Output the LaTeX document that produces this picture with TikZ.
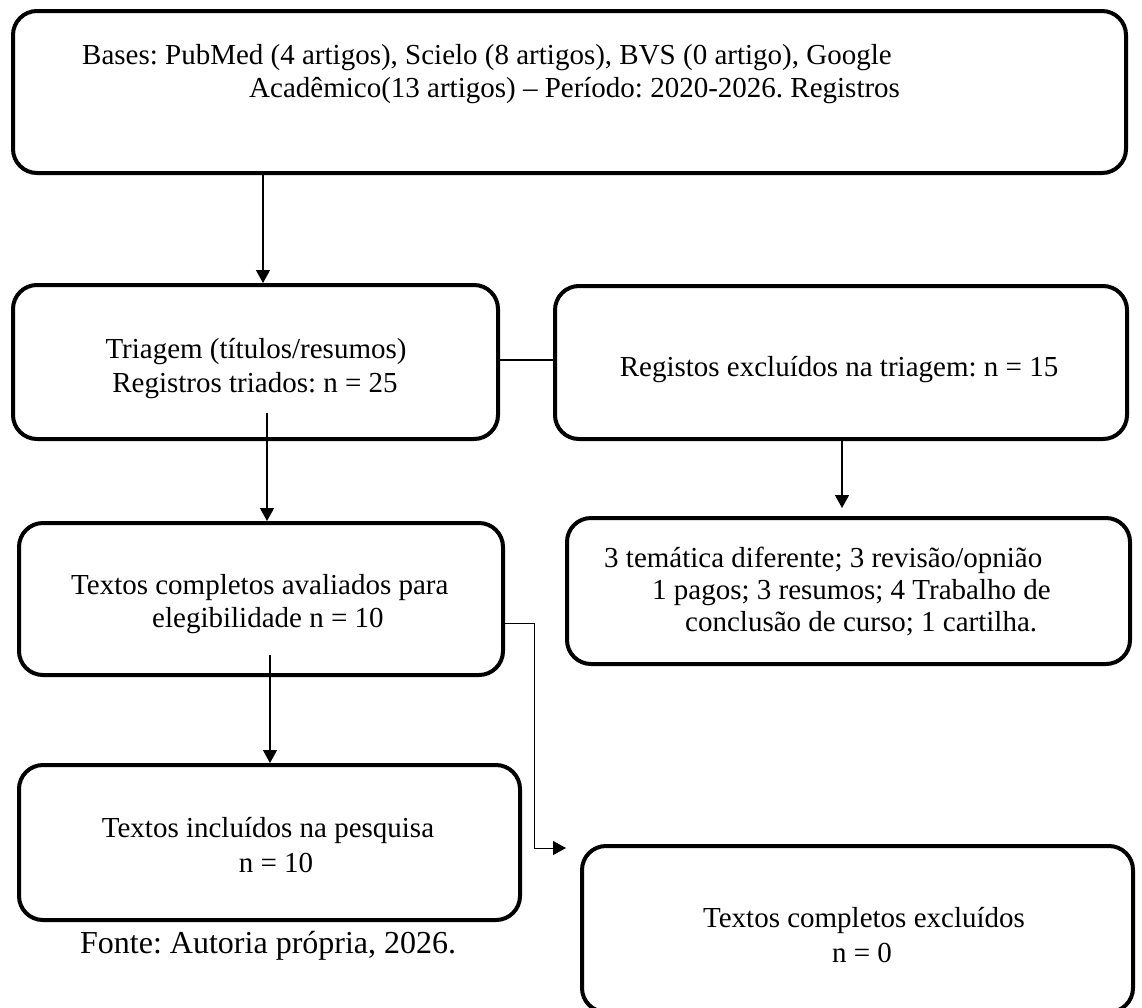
\documentclass[tikz,border=0pt]{standalone}
\usepackage{fontspec}
\setmainfont{Liberation Serif}
\usetikzlibrary{arrows.meta}
\frenchspacing
\begin{document}
\begin{tikzpicture}[x=1pt,y=-1pt,
  box/.style={draw, line width=4pt, rounded corners=24pt, inner sep=0pt},
  txt/.style={inner sep=0pt, font=\fontsize{29}{33}\selectfont},
  arr/.style={line width=1.4pt, -{Triangle[length=13pt,width=14pt]}},
  conn/.style={line width=1.4pt}]
\useasboundingbox (0,0) rectangle (1142,1007);
\clip (0,0) rectangle (1142,1007);
\fill[white] (0,0) rectangle (1142,1007);

% boxes
\node[box, minimum width=1113pt, minimum height=162pt] (b1) at (569.5,92) {};
\node[box, minimum width=485pt, minimum height=154pt] (b2) at (255.5,362) {};
\node[box, minimum width=572pt, minimum height=153pt] (b3) at (841,362.5) {};
\node[box, minimum width=484pt, minimum height=152pt] (b4) at (261,599) {};
\node[box, minimum width=563pt, minimum height=146pt] (b5) at (848.5,591) {};
\node[box, minimum width=501pt, minimum height=155pt] (b6) at (269.5,842.5) {};
\node[box, minimum width=551pt, minimum height=166pt] (b7) at (857.5,929) {};

% texts
\node[txt, anchor=base west] (t1a) at (82,64) {Bases: PubMed (4 artigos), Scielo (8 artigos), BVS (0 artigo), Google};
\node[txt, anchor=base west] (t1b) at (249,97) {Acadêmico(13 artigos) – Período: 2020-2026. Registros};
\node[txt, anchor=base] (t2a) at (256,358) {Triagem (títulos/resumos)};
\node[txt, anchor=base] (t2b) at (255,392) {Registros triados: n = 25};
\node[txt, anchor=base] (t3) at (839,376) {Registos excluídos na triagem: n = 15};
\node[txt, anchor=base west] (t4a) at (71,594) {Textos completos avaliados para};
\node[txt, anchor=base west] (t4b) at (152,627) {elegibilidade n = 10};
\node[txt, anchor=base west] (t5a) at (604,567) {3 temática diferente; 3 revisão/opnião};
\node[txt, anchor=base west] (t5b) at (652,599) {1 pagos; 3 resumos; 4 Trabalho de};
\node[txt, anchor=base west] (t5c) at (685,631) {conclusão de curso; 1 cartilha.};
\node[txt, anchor=base] (t6a) at (268,837) {Textos incluídos na pesquisa};
\node[txt, anchor=base] (t6b) at (276,872) {n = 10};
\node[txt, anchor=base] (t7a) at (864,927) {Textos completos excluídos};
\node[txt, anchor=base] (t7b) at (862,962) {n = 0};
\node[inner sep=0pt, anchor=base west, font=\fontsize{32}{36}\selectfont] (src) at (80,953) {Fonte: Autoria própria, 2026.};

% connectors
\coordinate (c1) at (263,0);
\draw[arr] (b1.south -| c1) -- (b2.north -| c1);
\coordinate (s2) at (267,413);
\draw[arr] (s2) -- (b4.north -| s2);
\coordinate (c3) at (842,0);
\coordinate (e3) at (842,508);
\draw[arr] (b3.south -| c3) -- (e3);
\coordinate (s4) at (270,655);
\draw[arr] (s4) -- (b6.north -| s4);
\coordinate (c5) at (0,360);
\draw[conn] (b2.east |- c5) -- (b3.west |- c5);
\coordinate (k1) at (534,623);
\coordinate (k2) at (566,848);
\draw[arr, line width=1pt] (b4.east |- k1) -- (k1) |- (k2);
\end{tikzpicture}
\end{document}
